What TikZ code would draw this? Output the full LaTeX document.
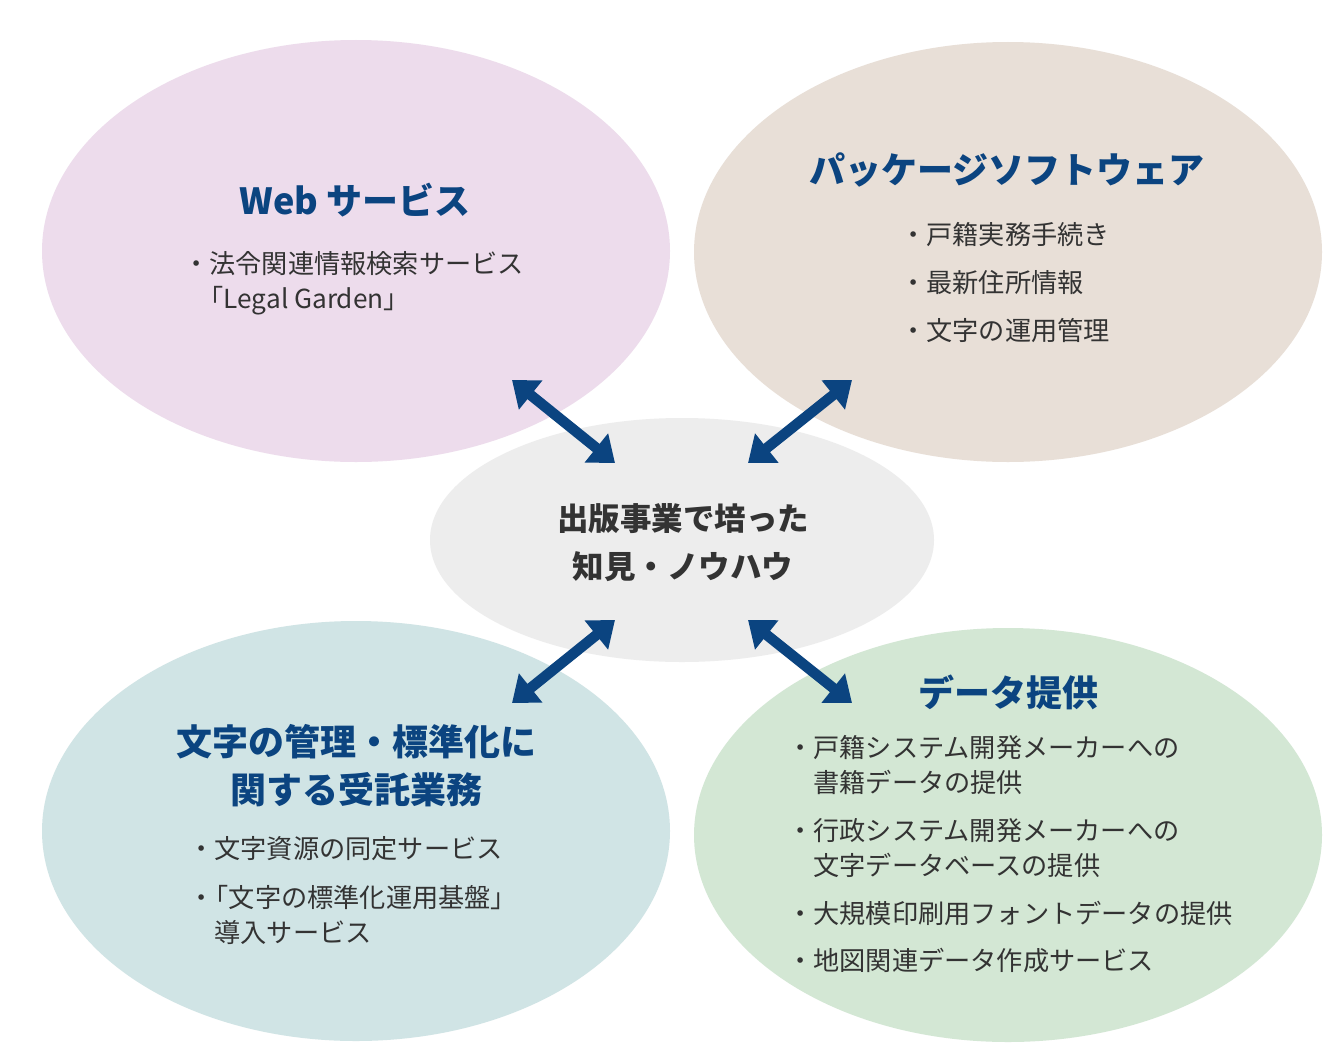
\documentclass[tikz,border=0pt]{standalone}
\usepackage{fontspec}
\setmainfont{Noto Sans CJK JP}
\usetikzlibrary{arrows.meta}
\definecolor{cpink}{HTML}{EDDCEC}
\definecolor{cbeige}{HTML}{E8DFD7}
\definecolor{cgrey}{HTML}{EDEDED}
\definecolor{cblue}{HTML}{D0E4E5}
\definecolor{cgreen}{HTML}{D3E7D4}
\definecolor{navy}{HTML}{0B4480}
\definecolor{txt}{HTML}{333333}
\tikzset{
  ttl/.style={text=navy, font=\fontsize{36}{48}\selectfont\bfseries, align=center, inner sep=0pt},
  itm/.style={text=txt, font=\fontsize{26.2}{35}\selectfont, align=left, anchor=west, inner sep=0pt},
  ctr/.style={text=txt, font=\fontsize{31.5}{48}\selectfont\bfseries, align=center, inner sep=0pt},
  arr/.style={draw=navy, line width=10.5pt, {Triangle[length=24pt,width=36pt]}-{Triangle[length=24pt,width=36pt]}}
}
\begin{document}
\begin{tikzpicture}[x=1pt,y=-1pt]
\useasboundingbox (0,0) rectangle (1335,1057);
\fill[white] (0,0) rectangle (1335,1057);
% ellipses
\fill[cpink] (356,251) ellipse [x radius=314, y radius=211];
\fill[cbeige] (1008,252) ellipse [x radius=314, y radius=210];
\fill[cblue] (356,831) ellipse [x radius=314, y radius=210];
\fill[cgreen] (1008,835) ellipse [x radius=314, y radius=207];
\fill[cgrey] (682,540) ellipse [x radius=252, y radius=122];
% center text
\node[ctr] (center) at (683,543) {出版事業で培った\\知見・ノウハウ};
% titles
\node[ttl] (web) at (355,200) {Web サービス};
\node[ttl] (pkg) at (1007,170) {パッケージソフトウェア};
\node[ttl] (moji) at (356,766) {文字の管理・標準化に\\関する受託業務};
\node[ttl] (data) at (1008,692) {データ提供};
% web items
\node[itm] (w1) at (183,283) {・法令関連情報検索サービス\\\hspace{0.55em}「Legal Garden」};
% pkg items
\node[itm] (p1) at (900,235) {・戸籍実務手続き};
\node[itm] (p2) at (900,283) {・最新住所情報};
\node[itm] (p3) at (900,331) {・文字の運用管理};
% moji items
\node[itm] (m1) at (188,849) {・文字資源の同定サービス};
\node[itm] (m2) at (188,915) {・\hspace{-0.45em}「文字の標準化運用基盤」\\\hspace{1em}導入サービス};
% data items
\node[itm] (d1) at (787,765) {・戸籍システム開発メーカーへの\\\hspace{1em}書籍データの提供};
\node[itm] (d2) at (787,848) {・行政システム開発メーカーへの\\\hspace{1em}文字データベースの提供};
\node[itm] (d3) at (787,913) {・大規模印刷用フォントデータの提供};
\node[itm] (d4) at (787,960) {・地図関連データ作成サービス};
% arrows
\coordinate (a1s) at (512,380); \coordinate (a1e) at (615,463);
\coordinate (a2s) at (852,380); \coordinate (a2e) at (748,463);
\coordinate (a3s) at (512,703); \coordinate (a3e) at (615,620);
\coordinate (a4s) at (852,703); \coordinate (a4e) at (748,620);
\draw[arr] (a1s) -- (a1e);
\draw[arr] (a2s) -- (a2e);
\draw[arr] (a3s) -- (a3e);
\draw[arr] (a4s) -- (a4e);
\end{tikzpicture}
\end{document}
